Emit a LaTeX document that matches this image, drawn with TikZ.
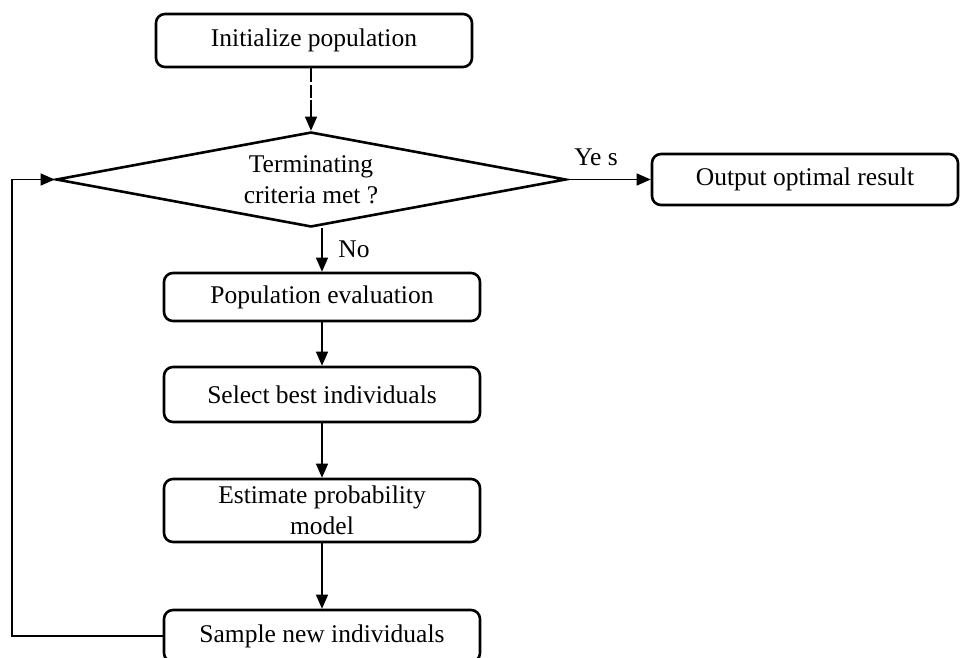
\documentclass[tikz,border=0pt]{standalone}
\usepackage{fontspec}
\setmainfont{Liberation Serif}
\usetikzlibrary{arrows.meta,shapes.geometric}
\begin{document}
\begin{tikzpicture}[x=1pt,y=-1pt,
  font=\fontsize{25.5}{31}\selectfont,
  stepbox/.style={draw,line width=2.6pt,rounded corners=9pt,inner sep=0pt,
    minimum width=316pt,align=center},
  decision/.style={draw,line width=2.6pt,shape=diamond,aspect=5.3,inner sep=0pt,
    minimum width=510pt,minimum height=95pt,align=center},
  flow/.style={line width=1.3pt,-{Triangle[length=14pt,width=12pt]}},
  lbl/.style={inner sep=0pt}]
\clip (0,0) rectangle (961,657);

% process steps
\node[stepbox,minimum height=53pt] (init) at (314,40.5) {Initialize population};
\node[decision] (term) at (311,179.5) {Terminating\\criteria met ?};
\node[stepbox,minimum width=306pt,minimum height=51pt] (out) at (805,179.5) {Output optimal result};
\node[stepbox,minimum height=48pt] (eval) at (322,297) {Population evaluation};
\node[stepbox,minimum height=55pt] (sel) at (322,394.5) {Select best individuals};
\node[stepbox,minimum height=63pt] (est) at (322,510.5) {Estimate probability\\model};
\node[stepbox,minimum height=52pt] (samp) at (322,636) {Sample new individuals};

% branch labels
\node[lbl] (yes) at (596,157) {Ye s};
\node[lbl] (no) at (354,249) {No};

% connectors
\draw[flow,dash pattern=on 14pt off 3pt on 13pt off 2pt on 200pt] (init.south -| term.north) -- (term.north);
\draw[flow] (term.east) -- (out.west);
\draw[flow] (term.south -| eval.north) -- (eval.north);
\draw[flow] (eval) -- (sel);
\draw[flow] (sel) -- (est);
\draw[flow] (est) -- (samp);

% feedback loop back to the decision
\coordinate (loopl) at (12,636);
\draw[flow] (samp.west) -- (loopl) |- (term.west);
\end{tikzpicture}
\end{document}
